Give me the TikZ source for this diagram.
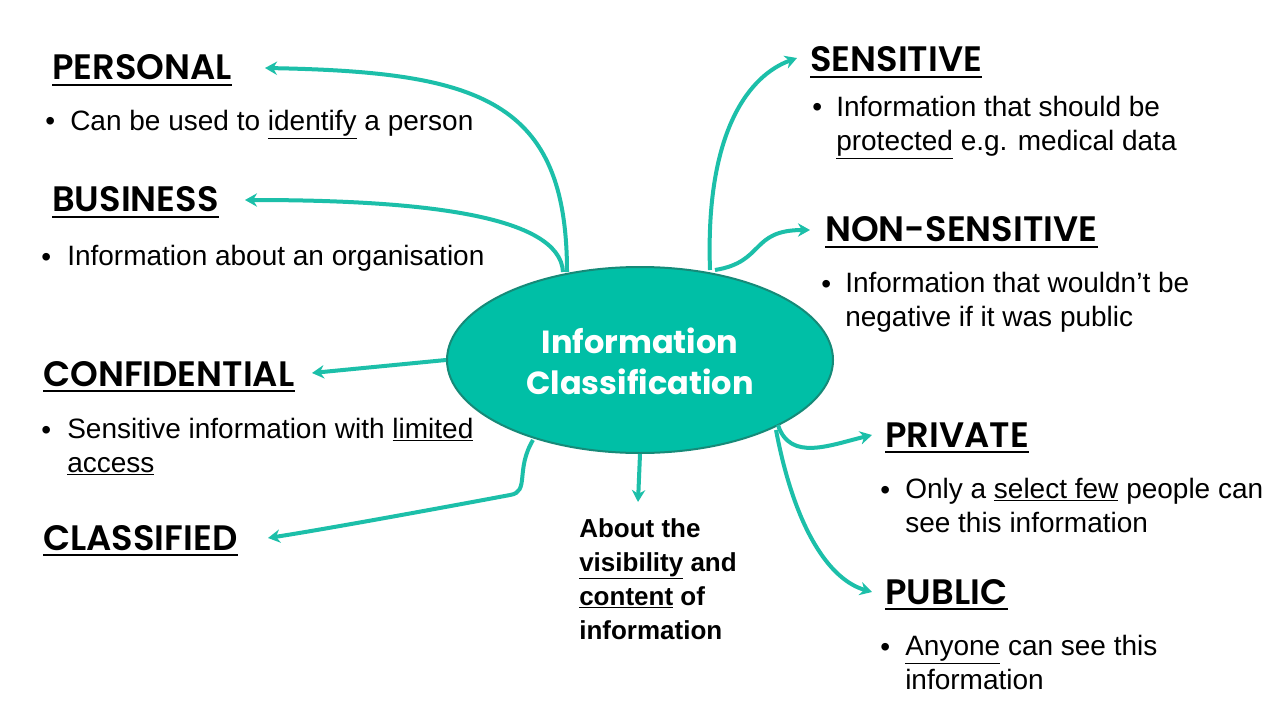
\documentclass[tikz,border=0pt]{standalone}
\usepackage{fontspec}
\setmainfont{Liberation Sans}
\newfontfamily\headfont{Poppins}[UprightFont=* SemiBold]
\newfontfamily\headbfont{Poppins}[UprightFont=* Bold]
\usetikzlibrary{arrows.meta,shapes.geometric}
\definecolor{teal1}{HTML}{1CBFA9}
\definecolor{tealfill}{HTML}{00BFA6}
\definecolor{tealedge}{HTML}{168A78}
\tikzset{x=0.75pt,y=-0.75pt,
 conn/.style={draw=teal1,line width=3pt,-{Stealth[length=9pt,width=10pt]}},
 head/.style={anchor=base west,inner sep=0pt,font=\headfont\fontsize{26.5}{30}\selectfont},
 body/.style={anchor=north west,inner sep=0pt,font=\fontsize{21}{25.5}\selectfont,align=left},
 bul/.style={anchor=base west,inner sep=0pt,font=\fontsize{21}{25.5}\selectfont}}
\newcommand\hd[3]{\node[head] (#1) at (#2) {#3};\draw[line width=1.6pt] ([yshift=-3.5pt]#1.base west) -- ([yshift=-3.5pt]#1.base east);}
\begin{document}
\begin{tikzpicture}
\useasboundingbox[fill=white] (0,0) rectangle (1280,720);
\node[ellipse,fill=tealfill,draw=tealedge,line width=1.5pt,minimum width=289.5pt,minimum height=139.5pt] (c) at (640,360) {};
\node[font=\headbfont\fontsize{24}{31}\selectfont,text=white,align=center] (ct) at (640,361) {Information\\Classification};
\hd{hp}{52,80}{PERSONAL}
\hd{hb}{52,212}{BUSINESS}
\hd{hc}{43,386}{CONFIDENTIAL}
\hd{hk}{43,550}{CLASSIFIED}
\hd{hs}{810,72}{SENSITIVE}
\hd{hn}{825,242}{NON-SENSITIVE}
\hd{hr}{885,447}{PRIVATE}
\hd{hu}{885,604}{PUBLIC}
\node[bul] (b1) at (45,131) {•};
\node[body] (t1) at (70,110) {Can be used to \underline{identify} a person};
\node[bul] (b2) at (41,266) {•};
\node[body] (t2) at (67,245) {Information about an organisation};
\node[bul] (b3) at (41,439) {•};
\node[body] (t3) at (67,418) {Sensitive information with \underline{limited}\\\underline{access}};
\node[bul] (b4) at (812,117) {•};
\node[body] (t4) at (836,96) {Information that should be\\\underline{protected} e.g. medical data};
\node[bul] (b5) at (821,293) {•};
\node[body] (t5) at (845,272) {Information that wouldn’t be\\negative if it was public};
\node[bul] (b6) at (880,499) {•};
\node[body] (t6) at (905,478) {Only a \underline{select few} people can\\see this information};
\node[bul] (b7) at (880,656) {•};
\node[body] (t7) at (905,635) {\underline{Anyone} can see this\\information};
\node[body,font=\bfseries\fontsize{19.5}{25.5}\selectfont] (t8) at (579,518) {About the\\\underline{visibility} and\\\underline{content} of\\information};
\coordinate (ep) at (265,68); \coordinate (eb) at (245,200);
\coordinate (ec) at (312,373); \coordinate (ek) at (268,538);
\coordinate (es) at (797,58); \coordinate (en) at (810,230);
\coordinate (er) at (872,435); \coordinate (eu) at (872,592);
\coordinate (ed) at (638,502);
\draw[conn] (567,272) .. controls (567,100) and (480,72) .. (ep);
\draw[conn] (563,272) .. controls (560,215) and (420,200) .. (eb);
\draw[conn] (c.west) -- (ec);
\draw[conn] (533,440) .. controls (515,470) and (530,492) .. (510,495) .. controls (430,510) and (320,530) .. (ek);
\draw[conn] (c.south) -- (ed);
\draw[conn] (710,270) .. controls (705,130) and (750,75) .. (es);
\draw[conn] (715,270) .. controls (765,262) and (750,230) .. (en);
\draw[conn] (778,425) .. controls (790,462) and (830,445) .. (er);
\draw[conn] (776,430) .. controls (795,530) and (830,580) .. (eu);
\end{tikzpicture}
\end{document}
